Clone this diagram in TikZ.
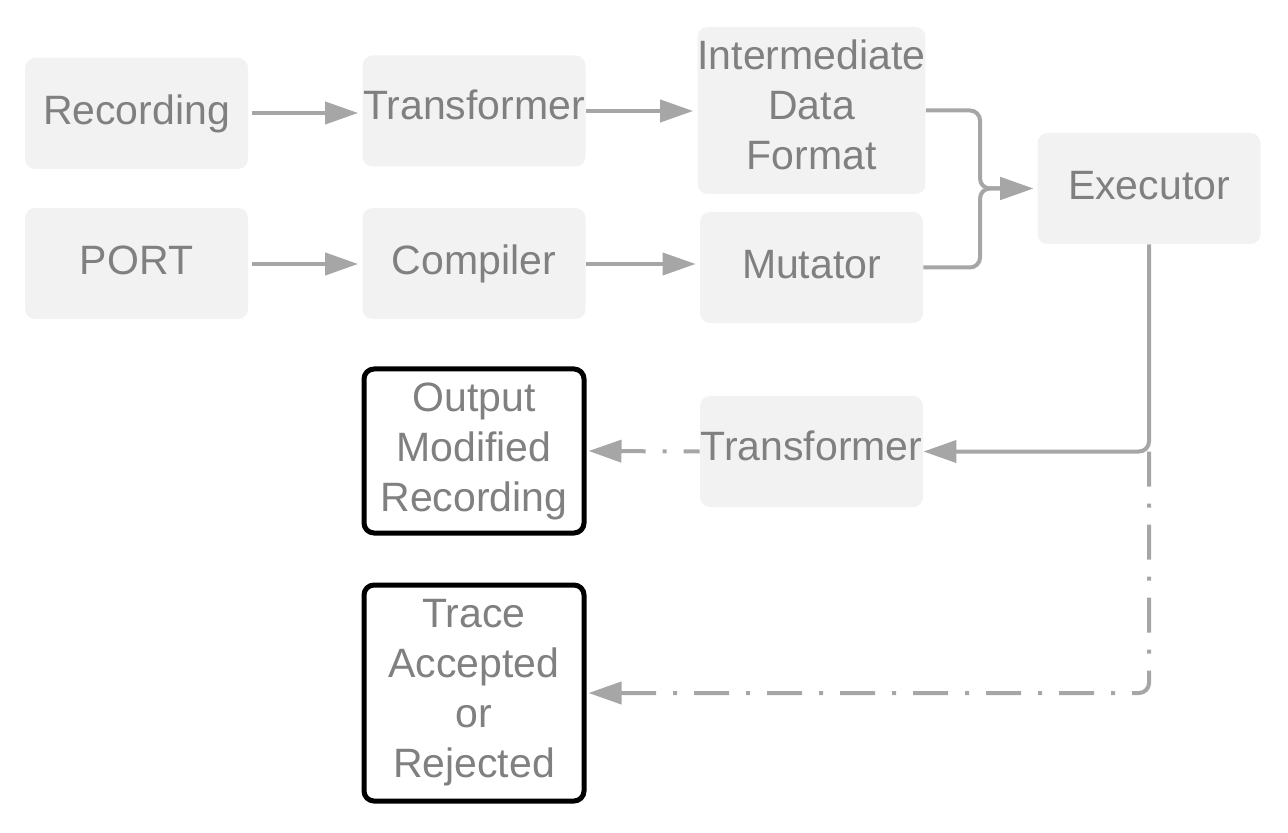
\documentclass[tikz,border=0pt]{standalone}
\usepackage{fontspec}
\setmainfont{Liberation Sans}
\usetikzlibrary{arrows.meta}
\definecolor{boxgray}{HTML}{F2F2F2}
\definecolor{txtgray}{HTML}{808080}
\definecolor{arrgray}{HTML}{A6A6A6}
\begin{document}
\begin{tikzpicture}[x=0.5pt, y=-0.5pt,
    block/.style={fill=boxgray, rounded corners=5pt, inner sep=0pt,
        minimum width=111.5pt, minimum height=55.5pt, align=center,
        text=txtgray, font=\fontsize{20.5}{25}\selectfont},
    oneline/.style={text height=16pt, text depth=4.8pt},
    outbox/.style={block, fill=white, draw=black, line width=2.5pt,
        minimum width=110pt},
    arr/.style={draw=arrgray, line width=2pt,
        -{Triangle[length=16.5pt, width=11pt]}, arrgray},
    dashdot/.style={dash pattern=on 17.5pt off 8.5pt on 2pt off 8.5pt}]

    \useasboundingbox (0,0) rectangle (1288,833);

    \node[block, oneline] (rec) at (136.5,113.5) {Recording};
    \node[block, oneline, text depth=7.3pt] (tr1) at (474,111) {Transformer};
    \node[block, minimum height=83.5pt, text depth=6pt] (idf) at (811.5,110.5) {Intermediate\\Data\\Format};
    \node[block, oneline] (exe) at (1149,188.5) {Executor};
    \node[block, oneline] (port) at (136.5,263.5) {PORT};
    \node[block, oneline] (comp) at (474,263.5) {Compiler};
    \node[block, oneline] (mut) at (811.5,267.5) {Mutator};
    \node[block, oneline, text depth=7.3pt] (tr2) at (811.5,451.5) {Transformer};
    \node[outbox, minimum height=82pt] (out) at (474,451) {Output\\Modified\\Recording};
    \node[outbox, minimum height=108pt] (trace) at (474,693) {Trace\\Accepted\\or\\Rejected};

    \coordinate (join) at (980,188.5);

    \draw[arr, shorten <=2pt, shorten >=2pt] (rec.east |- 0,113) -- (tr1.west |- 0,113);
    \draw[arr, shorten >=2pt] (tr1.east) -- (tr1.east -| idf.west);
    \draw[arr, shorten <=2pt, shorten >=2pt] (port.east |- 0,264) -- (comp.west |- 0,264);
    \draw[arr, shorten >=2pt] (comp.east |- 0,264) -- (mut.west |- 0,264);
    \draw[arr, rounded corners=5pt, shorten >=2pt] (idf.east) -| (join) -- (exe.west);
    \draw[arr, rounded corners=5pt, shorten >=2pt] (mut.east) -| (join) -- (exe.west);
    \draw[arr, rounded corners=5pt] (exe.south) |- (tr2.east);
    \draw[arr, dashdot, dash phase=9.5pt, shorten >=1pt] (tr2.west) -- (out.east);
    \draw[arr, dashdot, rounded corners=5pt, shorten >=1pt] (exe.south |- tr2.east) |- (trace.east);
\end{tikzpicture}
\end{document}
